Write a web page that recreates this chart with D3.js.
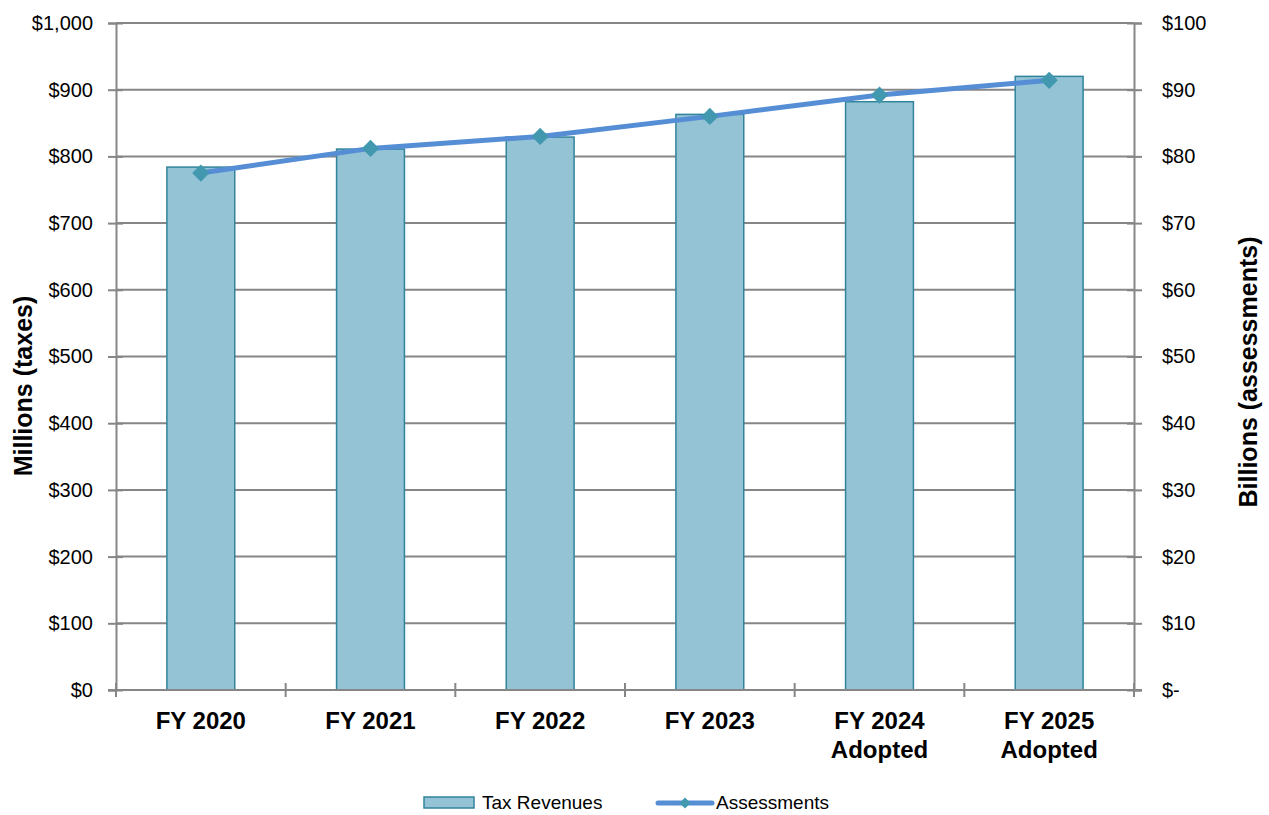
<!DOCTYPE html>
<html lang="en">
<head>
    <meta charset="UTF-8">
    <script src="https://d3js.org/d3.v7.min.js"></script>
    <title>Tax Revenues and Assessments</title>
    <style>
        body { margin: 0; background: white; }
        .tick-label { font-family: "Liberation Sans", Arial, sans-serif; font-size: 20px; fill: #000; }
        .cat-label { font-family: "Liberation Sans", Arial, sans-serif; font-size: 24px; font-weight: bold; fill: #000; }
        .axis-title { font-family: "Liberation Sans", Arial, sans-serif; font-size: 25px; font-weight: bold; fill: #000; }
        .legend-text { font-family: "Liberation Sans", Arial, sans-serif; font-size: 19px; fill: #000; }
    </style>
</head>
<body>
    <div id="chart"></div>
    <script>
        // data
        const categories = ["FY 2020", "FY 2021", "FY 2022", "FY 2023", "FY 2024\nAdopted", "FY 2025\nAdopted"];
        const taxRevenues = [784, 811, 829, 863, 882, 920];     // millions
        const assessments = [77.5, 81.2, 83.0, 86.0, 89.2, 91.4]; // billions
        const leftTicks = [0, 100, 200, 300, 400, 500, 600, 700, 800, 900, 1000];
        const rightTicks = [0, 10, 20, 30, 40, 50, 60, 70, 80, 90, 100];

        const width = 1269, height = 815;
        const plot = { left: 116, right: 1134, top: 23, bottom: 690 };

        const svg = d3.select("#chart").append("svg")
            .attr("width", width)
            .attr("height", height);

        const x = d3.scaleBand()
            .domain(categories)
            .range([plot.left, plot.right])
            .paddingInner(0.6)
            .paddingOuter(0.3);

        const yLeft = d3.scaleLinear().domain([0, 1000]).range([plot.bottom, plot.top]);
        const yRight = d3.scaleLinear().domain([0, 100]).range([plot.bottom, plot.top]);

        const gridColor = "#868686";

        // gridlines
        svg.append("g")
            .selectAll("line")
            .data(leftTicks.filter(d => d > 0))
            .enter()
            .append("line")
            .attr("x1", plot.left)
            .attr("x2", plot.right)
            .attr("y1", d => yLeft(d))
            .attr("y2", d => yLeft(d))
            .attr("stroke", gridColor)
            .attr("stroke-width", 2);

        // bars
        svg.append("g")
            .selectAll("rect")
            .data(taxRevenues)
            .enter()
            .append("rect")
            .attr("x", (d, i) => x(categories[i]))
            .attr("y", d => yLeft(d))
            .attr("width", x.bandwidth())
            .attr("height", d => plot.bottom - yLeft(d))
            .attr("fill", "#93C3D4")
            .attr("stroke", "#31849B")
            .attr("stroke-width", 1.5);

        // left axis
        const leftAxis = svg.append("g")
            .attr("transform", `translate(${plot.left},0)`)
            .call(d3.axisLeft(yLeft)
                .tickValues(leftTicks)
                .tickSize(8)
                .tickPadding(15)
                .tickFormat(d => d === 1000 ? "$1,000" : "$" + d));
        leftAxis.select(".domain").attr("stroke", gridColor).attr("stroke-width", 2);
        leftAxis.selectAll(".tick line").attr("stroke", gridColor).attr("stroke-width", 2).attr("x2", -8).attr("x1", 7);
        leftAxis.selectAll(".tick text").attr("class", "tick-label");
        leftAxis.attr("font-family", null).attr("font-size", null);

        // right axis
        const rightAxis = svg.append("g")
            .attr("transform", `translate(${plot.right},0)`)
            .call(d3.axisRight(yRight)
                .tickValues(rightTicks)
                .tickSize(8)
                .tickPadding(20)
                .tickFormat(d => d === 0 ? "$-" : "$" + d));
        rightAxis.select(".domain").attr("stroke", gridColor).attr("stroke-width", 2);
        rightAxis.selectAll(".tick line").attr("stroke", gridColor).attr("stroke-width", 2).attr("x1", -7).attr("x2", 8);
        rightAxis.selectAll(".tick text").attr("class", "tick-label");
        rightAxis.attr("font-family", null).attr("font-size", null);

        // bottom axis line with boundary ticks
        const bottom = svg.append("g");
        bottom.append("line")
            .attr("x1", plot.left - 8).attr("x2", plot.right + 8)
            .attr("y1", plot.bottom).attr("y2", plot.bottom)
            .attr("stroke", gridColor).attr("stroke-width", 2);
        const step = (plot.right - plot.left) / categories.length;
        bottom.selectAll("line.btick")
            .data(d3.range(categories.length + 1))
            .enter()
            .append("line")
            .attr("class", "btick")
            .attr("x1", i => plot.left + i * step)
            .attr("x2", i => plot.left + i * step)
            .attr("y1", plot.bottom - 7)
            .attr("y2", plot.bottom + 7)
            .attr("stroke", gridColor).attr("stroke-width", 2);

        // category labels
        const catText = svg.append("g")
            .selectAll("text")
            .data(categories)
            .enter()
            .append("text")
            .attr("class", "cat-label")
            .attr("text-anchor", "middle")
            .attr("x", d => x(d) + x.bandwidth() / 2)
            .attr("y", 729);
        catText.each(function (d) {
            const lines = d.split("\n");
            d3.select(this).selectAll("tspan")
                .data(lines)
                .enter()
                .append("tspan")
                .attr("x", x(d) + x.bandwidth() / 2)
                .attr("dy", (l, i) => i === 0 ? 0 : 29)
                .text(l => l);
        });

        // assessments line
        const line = d3.line()
            .x((d, i) => x(categories[i]) + x.bandwidth() / 2)
            .y(d => yRight(d));

        svg.append("path")
            .datum(assessments)
            .attr("d", line)
            .attr("fill", "none")
            .attr("stroke", "#558ED5")
            .attr("stroke-width", 5);

        svg.append("g")
            .selectAll("path")
            .data(assessments)
            .enter()
            .append("path")
            .attr("d", d3.symbol().type(d3.symbolSquare).size(150))
            .attr("transform", (d, i) => `translate(${x(categories[i]) + x.bandwidth() / 2},${yRight(d)}) rotate(45)`)
            .attr("fill", "#4198AF");

        // axis titles
        svg.append("text")
            .attr("class", "axis-title")
            .attr("text-anchor", "middle")
            .attr("transform", "translate(32,386) rotate(-90)")
            .text("Millions (taxes)");

        svg.append("text")
            .attr("class", "axis-title")
            .attr("text-anchor", "middle")
            .attr("transform", "translate(1257,372) rotate(-90)")
            .text("Billions (assessments)");

        // legend
        const legend = svg.append("g");
        legend.append("rect")
            .attr("x", 424).attr("y", 797)
            .attr("width", 50).attr("height", 11)
            .attr("fill", "#93C3D4")
            .attr("stroke", "#31849B")
            .attr("stroke-width", 1.5);
        legend.append("text")
            .attr("class", "legend-text")
            .attr("x", 482).attr("y", 809)
            .text("Tax Revenues");
        legend.append("line")
            .attr("x1", 658).attr("x2", 712)
            .attr("y1", 803).attr("y2", 803)
            .attr("stroke", "#558ED5")
            .attr("stroke-width", 5)
            .attr("stroke-linecap", "round");
        legend.append("path")
            .attr("d", d3.symbol().type(d3.symbolSquare).size(60))
            .attr("transform", "translate(685,803) rotate(45)")
            .attr("fill", "#4198AF");
        legend.append("text")
            .attr("class", "legend-text")
            .attr("x", 716).attr("y", 809)
            .text("Assessments");
    </script>
</body>
</html>
